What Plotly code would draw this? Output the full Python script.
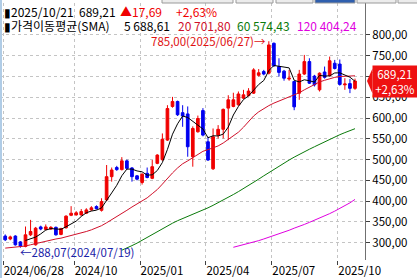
import numpy as np
import pandas as pd
import plotly.graph_objects as go

# ---- data (weekly candles) ----
dates = list(pd.date_range("2024-06-28", periods=69, freq="7D").strftime("%Y/%m/%d")) + ["2025/10/21"]

open_ = [316, 309, 316, 302, 291, 319, 295, 338, 332, 333,
         337, 320, 336, 366, 367, 367, 371, 379, 387, 378,
         403, 459, 481, 476, 497, 480, 461, 445, 467, 455,
         491, 500, 547, 628, 640, 613, 610, 507, 567, 618,
         543, 478, 559, 573, 624, 628, 632, 648, 654, 660,
         703, 712, 708, 780, 724, 713, 694, 688, 660, 706,
         736, 701, 668, 711, 702, 732, 730, 680, 683, 671.52]
high_ = [320, 317, 318, 304, 339, 355, 338, 341, 344, 340,
         339, 336, 366, 388, 376, 381, 383, 388, 390, 407,
         487, 481, 485, 506, 500, 482, 463, 467, 481, 499,
         513, 563, 631, 651, 642, 631, 628, 580, 606, 624,
         555, 575, 583, 623, 655, 661, 664, 668, 672, 720,
         718, 716, 785, 782, 744, 716, 716, 690, 716, 752,
         744, 704, 710, 724, 748, 740, 741, 696, 694, 695]
low_ = [304, 306, 293, 288.07, 289, 316, 293, 330, 330, 331,
        317, 318, 334, 364, 365, 365, 369, 377, 380, 375,
        400, 447, 473, 474, 476, 447, 450, 440, 455, 453,
        489, 497, 545, 625, 605, 579, 507, 483, 565, 556,
        497, 475, 551, 551, 547, 626, 630, 646, 652, 658,
        700, 703, 705, 723, 700, 690, 690, 619, 644, 704,
        682, 676, 664, 695, 700, 717, 678, 668, 660, 668]
close_ = [307, 314, 295, 292, 319, 327, 335, 333, 338, 337,
          319, 334, 364, 371, 372, 375, 379, 384, 382, 399,
          459, 475, 476, 497, 479, 459, 453, 465, 457, 483,
          511, 549, 623, 640, 608, 605, 531, 575, 599, 559,
          499, 555, 573, 621, 644, 644, 658, 656, 665, 716,
          709, 706, 776, 726, 710, 696, 696, 627, 706, 736,
          684, 680, 708, 698, 738, 719.3, 681, 682, 671.52, 689.21]

sma20 = [287, 288, 289, 290, 292, 295, 298, 301, 304, 307,
         309, 311, 314, 317, 320, 323, 327, 331, 336, 341,
         348, 355, 362, 370, 378, 386, 393, 400, 408, 418,
         428, 441, 455, 468, 480, 490, 497, 505, 513, 520,
         524, 528, 533, 540, 548, 556, 566, 578, 592, 605,
         615, 623, 630, 636, 641, 646, 650, 655, 661, 668,
         675, 682, 687, 691, 695, 698, 700, 701, 702, 701.80]
sma60 = [None] * 23 + [282, 287, 293, 299, 306, 314, 320,
         327, 334, 341, 347, 353, 358, 363, 368, 373, 379,
         384, 390, 396, 403, 409, 416, 423, 430, 437, 445,
         453, 461, 469, 477, 485, 492, 499, 506, 513, 519,
         525, 531, 537, 543, 549, 555, 560, 565, 570, 574.43]
sma120 = [None] * 45 + [289, 292, 295, 298, 302,
          305, 309, 313, 317, 322, 326, 330, 335, 339, 344,
          349, 354, 359, 365, 370, 376, 382, 388, 396, 404.24]

tick_dates = ["2024/06/28", "2024/10/04", "2025/01/03", "2025/04/04", "2025/07/04", "2025/10/03"]
tick_text = ["2024/06/28", "2024/10", "2025/01", "2025/04", "2025/07", "2025/10"]
y_ticks = [300, 350, 400, 450, 500, 550, 600, 650, 700, 750, 800]

# ---- styles ----
RED = "#f00000"
BLUE = "#0000f0"
MA20_C = "#d0102a"
MA60_C = "#0a7a0a"
MA120_C = "#e000e0"
GRID = "#c4c4c4"
FONT = "Noto Sans CJK KR"
FS = 12


def kfmt(v):
    return f"{v:.2f}".replace(".", ",")


x = np.arange(len(dates))
sma5 = pd.Series(close_).rolling(5).mean()

fig = go.Figure()
fig.add_trace(go.Candlestick(
    x=x, open=open_, high=high_, low=low_, close=close_,
    increasing=dict(line=dict(color=RED, width=1), fillcolor=RED),
    decreasing=dict(line=dict(color=BLUE, width=1), fillcolor=BLUE),
    whiskerwidth=0, hoverinfo="skip"))
fig.add_trace(go.Scatter(x=x, y=sma120, mode="lines", line=dict(color=MA120_C, width=1)))
fig.add_trace(go.Scatter(x=x, y=sma60, mode="lines", line=dict(color=MA60_C, width=1)))
fig.add_trace(go.Scatter(x=x, y=sma20, mode="lines", line=dict(color=MA20_C, width=1)))
fig.add_trace(go.Scatter(x=x, y=sma5, mode="lines", line=dict(color="black", width=1)))

tickvals = [dates.index(d) - 0.4 for d in tick_dates]

PLOT_W = 365.0
PLOT_H = 257.0

fig.update_layout(
    width=417, height=278,
    margin=dict(l=0, r=52, t=3, b=18),
    paper_bgcolor="white", plot_bgcolor="white",
    showlegend=False, separators=", ", boxgap=0.25,
    font=dict(family=FONT, size=FS, color="black"),
    xaxis=dict(range=[-1.03, 70.97], rangeslider=dict(visible=False),
               tickmode="array", tickvals=tickvals, ticktext=tick_text,
               ticks="outside", ticklen=4, tickcolor="#404040",
               ticklabelposition="outside right",
               showgrid=True, gridcolor=GRID, griddash="3px,3px", gridwidth=1,
               showline=False, zeroline=False, tickfont=dict(size=11.5)),
    yaxis=dict(side="right", range=[258.4, 877.0], tickmode="array", tickvals=y_ticks,
               tickformat=".2f", ticks="outside", ticklen=4, tickcolor="#404040",
               showline=True, linecolor="#707070", linewidth=1,
               showgrid=True, gridcolor=GRID, griddash="3px,3px", gridwidth=1,
               zeroline=False, tickfont=dict(size=11.5)),
)

# ---- header text (pieces placed like the reference) ----
last, prev = close_[-1], close_[-2]
chg = last - prev
pct = chg / prev * 100


def head(px, row_y, text, color):
    fig.add_annotation(xref="paper", yref="paper", x=px / PLOT_W, y=(260 - row_y) / PLOT_H,
                       xanchor="left", yanchor="middle", text=text, showarrow=False,
                       font=dict(size=FS, color=color), borderpad=0)


head(3, 12, f"▮{dates[-1]}", "black")
head(78, 12, kfmt(last), "black")
head(119, 12, f"▲{kfmt(chg)}", RED)
head(175, 12, f"+{kfmt(pct)}%", RED)
head(3, 25, "▮가격이동평균(SMA)", "black")
head(123, 25, f"5 {kfmt(sma5.iloc[-1])}", "black")
head(177, 25, f"20 {kfmt(sma20[-1])}", MA20_C)
head(236, 25, f"60 {kfmt(sma60[-1])}", MA60_C)
head(296, 25, f"120 {kfmt(sma120[-1])}", MA120_C)

# ---- high / low labels ----
hi_i = int(np.argmax(high_))
lo_i = int(np.argmin(low_))
fig.add_annotation(x=hi_i, y=high_[hi_i], xanchor="right", yanchor="middle", xshift=-1,
                   text=f"{kfmt(high_[hi_i])}({dates[hi_i]})→", showarrow=False,
                   font=dict(size=11.5, color="#e01010"))
fig.add_annotation(x=lo_i, y=low_[lo_i], xanchor="left", yanchor="middle", xshift=-2, yshift=-4,
                   text=f"←{kfmt(low_[lo_i])}({dates[lo_i]})", showarrow=False,
                   font=dict(size=11.5, color="#1a22a8"))

# ---- last price tag on the right ----
fig.add_annotation(xref="paper", yref="y", x=1 + 7 / PLOT_W, y=last,
                   xanchor="left", yanchor="middle",
                   text=f"{kfmt(last)}<br>+{kfmt(pct)}%", showarrow=False,
                   bgcolor="#ee1111", borderpad=0, width=44, align="center",
                   font=dict(size=11.5, color="white"))
half = 12.5 * (877.0 - 258.4) / PLOT_H
fig.add_shape(type="path", xref="paper", yref="y", layer="above",
              path=(f"M {1 + 2 / PLOT_W},{last} L {1 + 7.5 / PLOT_W},{last + half} "
                    f"L {1 + 7.5 / PLOT_W},{last - half} Z"),
              fillcolor="#ee1111", line=dict(width=0))

# ---- decorative frame pieces (UI tabs, left border) ----
tabs = [(162, 233, "#ececec"), (236, 273, "#ececec"), (276, 313, "#ececec"),
        (315, 355, "#2f5fae"), (357, 396, "#ececec"), (398, 420, "#ececec")]
for a, b, c in tabs:
    fig.add_shape(type="rect", xref="paper", yref="paper",
                  x0=a / PLOT_W, x1=b / PLOT_W, y0=1.0, y1=1 + 3.5 / PLOT_H,
                  fillcolor=c, line=dict(color="#9a9a9a", width=1), layer="above")
fig.add_shape(type="rect", xref="paper", yref="paper", x0=0, x1=2 / PLOT_W,
              y0=-18 / PLOT_H, y1=1 + 3 / PLOT_H, fillcolor="#b0cce6",
              line=dict(width=0), layer="above")

fig.write_html("out.html")
